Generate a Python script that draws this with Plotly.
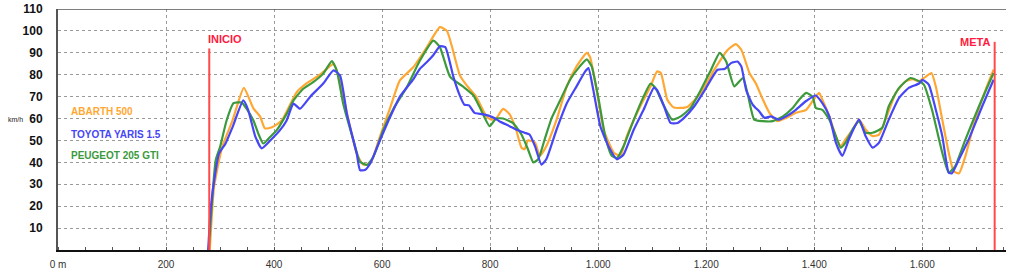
import plotly.graph_objects as go

# ---- data ----
abarth_d = [281, 289, 304, 323, 344, 362, 374, 383, 396, 414, 427, 442, 460, 485, 504, 510, 522, 538, 553, 565,
            578, 596, 615, 633, 658, 683, 707, 720, 744, 757, 774, 793, 802, 811, 824, 836, 848, 858, 864, 870,
            883, 892, 904, 923, 942, 960, 979, 985, 998, 1010, 1029, 1041, 1053, 1078, 1097, 1109, 1116, 1128,
            1140, 1165, 1190, 1215, 1240, 1255, 1265, 1280, 1292, 1305, 1317, 1332, 1348, 1366, 1385, 1397, 1409,
            1415, 1428, 1440, 1449, 1458, 1471, 1483, 1495, 1508, 1520, 1532, 1551, 1569, 1582, 1594, 1606, 1617,
            1625, 1637, 1649, 1658, 1668, 1680, 1698, 1717, 1732]
abarth_v = [0, 29, 47, 59, 74, 64.5, 61, 55.5, 56, 59, 65, 72, 76, 80, 84, 85, 77, 59, 44, 39,
            39.5, 51.7, 65, 77.4, 83.5, 92.6, 101.7, 100, 79.7, 75, 70, 61, 59.5, 60, 64.4, 62, 55, 46.7, 46, 50,
            49, 43, 47.4, 59.5, 74.7, 83.8, 90, 88, 71.7, 55, 44.4, 43, 52, 65.6, 74.7, 81.5, 80.8, 68.6,
            65, 65.3, 71.7, 82.3, 91.4, 94, 91.4, 80.8, 76, 68.6, 62.6, 58.8, 60.3, 62.6, 64, 68, 71.7,
            68.6, 61, 52, 47.4, 50.5, 55, 59.5, 55, 52, 52.7, 59.5, 71.7, 77, 78, 77, 79, 80.8,
            74.7, 59.5, 44.4, 36, 35, 43, 59.5, 73, 82.3]

yaris_d = [278, 283, 291, 298, 310, 323, 343, 352, 365, 377, 393, 411, 423, 436, 448, 467, 491, 510, 522, 535,
           553, 559, 568, 578, 596, 615, 633, 658, 670, 683, 695, 707, 717, 732, 743, 752, 761, 771, 786, 805,
           817, 836, 848, 864, 873, 883, 895, 904, 923, 942, 960, 976, 982, 991, 1004, 1019, 1035, 1047, 1066,
           1084, 1103, 1109, 1122, 1134, 1147, 1159, 1178, 1196, 1221, 1234, 1246, 1258, 1265, 1274, 1286, 1298,
           1308, 1320, 1335, 1348, 1366, 1385, 1403, 1415, 1428, 1440, 1452, 1465, 1483, 1495, 1508, 1520, 1538,
           1557, 1575, 1594, 1600, 1612, 1625, 1637, 1649, 1655, 1668, 1686, 1711, 1732]
yaris_v = [0, 19.7, 34.8, 44, 48.5, 56, 68.3, 64, 52, 46.4, 50, 54.7, 59, 66.8, 64.5, 70, 76, 82, 79.7, 62,
           44, 36.5, 36.5, 39.5, 50, 60.8, 70, 78, 82.7, 85.8, 89, 93, 92.6, 79, 71, 66.4, 66, 62.6, 62, 60.6,
           58.8, 56.5, 55, 53.5, 52.7, 47.4, 39, 41.4, 55, 67, 74.7, 81.5, 83, 73, 56.5, 47.4, 41.4, 43.6, 55,
           64, 74, 73, 65.6, 58, 58, 60.3, 65.6, 72.4, 82.3, 82.6, 85.3, 86, 83.8, 73, 66.4, 63.3,
           60.3, 61, 59.5, 61, 64, 68, 70.5, 67, 61, 49, 43, 51, 59.5, 52, 46.7, 49, 59.5,
           69.4, 74, 76, 77.7, 75.5, 64, 52, 35.3, 35, 41.4, 50.5, 65.6, 77.7]

peugeot_d = [279, 292, 300, 312, 325, 340, 349, 362, 371, 380, 393, 405, 423, 436, 454, 473, 491, 507, 516, 528,
             547, 559, 572, 584, 602, 621, 646, 670, 695, 707, 726, 751, 769, 781, 799, 811, 824, 842, 858, 870,
             880, 889, 901, 914, 929, 948, 966, 979, 988, 1001, 1013, 1025, 1035, 1047, 1066, 1084, 1097, 1106,
             1122, 1137, 1153, 1171, 1190, 1209, 1225, 1237, 1252, 1268, 1277, 1289, 1305, 1323, 1342, 1360, 1372,
             1385, 1397, 1403, 1415, 1428, 1440, 1449, 1458, 1471, 1483, 1495, 1508, 1526, 1538, 1557, 1578, 1594,
             1603, 1618, 1637, 1649, 1661, 1680, 1705, 1732]
peugeot_v = [0, 41, 47, 59, 67, 67.3, 64.5, 59, 53, 48.6, 51.7, 54.7, 62, 68.3, 73.6, 76.7, 80.5, 86.2, 82, 66.8,
             50, 40.3, 38.8, 42.6, 54.7, 64.5, 74.4, 86.5, 95.6, 92.6, 79, 74.4, 70.6, 65, 56.5, 60, 60, 58, 52.7, 46,
             40, 41.4, 50.5, 60.3, 68, 77.7, 83.8, 87, 83.8, 68.6, 52, 43, 42, 47.4, 59.5, 70, 76, 74,
             65.6, 59.5, 61, 64.8, 73, 82.3, 90, 86, 74.7, 78.5, 71, 59.5, 58.8, 58.8, 61, 64.8, 68.6,
             71.7, 70, 64.8, 64, 59.5, 52, 46.7, 49, 55, 58.8, 53.5, 53.5, 55.8, 65.6, 74, 78.5, 77,
             75.5, 64, 44.4, 35.3, 38.3, 50.5, 65.6, 80.8]

series_names = ["ABARTH 500", "TOYOTA YARIS 1.5", "PEUGEOT 205 GTI"]
series_colors = ["#FFA733", "#4646F5", "#3C9A3C"]

x_tickvals = [0, 200, 400, 600, 800, 1000, 1200, 1400, 1600]
x_ticktext = ["0 m", "200", "400", "600", "800", "1.000", "1.200", "1.400", "1.600"]
y_tickvals = [10, 20, 30, 40, 50, 60, 70, 80, 90, 100, 110]

marker_labels = ["INICIO", "META"]
marker_d = [280, 1734]
marker_top = [92, 95]

X_MAX = 1755
Y_MAX = 110

fig = go.Figure()
series = [(abarth_d, abarth_v), (peugeot_d, peugeot_v), (yaris_d, yaris_v)]
order = [0, 2, 1]
for idx, (xd, yv) in zip(order, series):
    fig.add_trace(go.Scatter(x=xd, y=yv, mode="lines", name=series_names[idx],
                             line=dict(color=series_colors[idx], width=2.2, shape="spline", smoothing=0.5),
                             showlegend=False))

# start / finish markers
for lab, d, top in zip(marker_labels, marker_d, marker_top):
    fig.add_shape(type="line", x0=d, x1=d, y0=0, y1=top, xref="x", yref="y",
                  line=dict(color="#FF4A4A", width=2), layer="above")
    if lab == "INICIO":
        fig.add_annotation(x=d, y=top, xref="x", yref="y", text="<b>" + lab + "</b>",
                           showarrow=False, xanchor="left", yanchor="bottom", xshift=-3, yshift=1,
                           font=dict(family="Liberation Sans", size=11, color="#FF1A40"))
    else:
        fig.add_annotation(x=d, y=top, xref="x", yref="y", text="<b>" + lab + "</b>",
                           showarrow=False, xanchor="right", yanchor="middle", xshift=-3, yshift=0,
                           font=dict(family="Liberation Sans", size=11, color="#FF1A40"))

# top border
fig.add_shape(type="line", x0=0, x1=1, y0=Y_MAX, y1=Y_MAX, xref="paper", yref="y",
              line=dict(color="#555555", width=1.5))

# legend texts
legend_y = [63, 52.5, 43]
for name, col, ly in zip(series_names, series_colors, legend_y):
    fig.add_annotation(x=20, y=ly, xref="x", yref="y", text="<b>" + name + "</b>",
                       showarrow=False, xanchor="left", yanchor="middle",
                       font=dict(family="Liberation Sans", size=10, color=col))

# km/h label
fig.add_annotation(x=0, y=59.5, xref="paper", yref="y", text="km/h", showarrow=False,
                   xanchor="right", yanchor="middle", xshift=-33,
                   font=dict(family="Liberation Sans", size=7, color="#222222"))

fig.update_layout(
    width=1024, height=271,
    margin=dict(l=58, r=18, t=9, b=21),
    paper_bgcolor="white", plot_bgcolor="white",
    showlegend=False,
)
fig.update_xaxes(
    range=[0, X_MAX], tickvals=x_tickvals, ticktext=x_ticktext, automargin=False,
    showgrid=True, gridcolor="#9A9A9A", griddash="3px,3px", gridwidth=1,
    showline=True, linecolor="#111111", linewidth=2,
    ticks="", zeroline=False, ticklabelstandoff=4,
    tickfont=dict(family="Liberation Sans Narrow, Liberation Sans", size=10, color="#333333"),
    minor=dict(dtick=50, tick0=0, ticks="inside", ticklen=3, tickcolor="#555555", showgrid=False),
)
fig.update_yaxes(
    range=[0, Y_MAX], tickvals=y_tickvals, automargin=False,
    showgrid=True, gridcolor="#9A9A9A", griddash="3px,3px", gridwidth=1,
    showline=True, linecolor="#555555", linewidth=2,
    ticks="", zeroline=False, ticklabelstandoff=11,
    tickfont=dict(family="Liberation Sans", size=12, color="#111111", weight="bold"),
)

fig.write_html("out.html")
